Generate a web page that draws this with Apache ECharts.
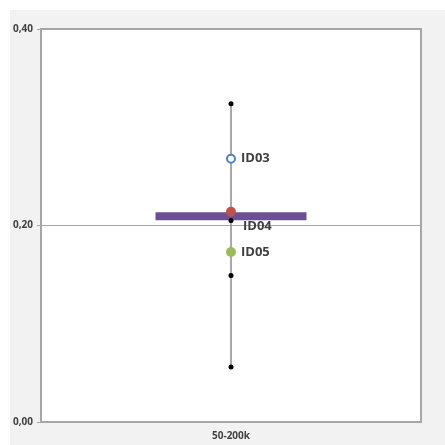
<!DOCTYPE html>
<html><head><meta charset="utf-8">
<script src="https://cdn.jsdelivr.net/npm/echarts@6/dist/echarts.min.js"></script>
<style>html,body{margin:0;padding:0;background:#fff}#c{width:445px;height:445px}</style>
</head><body><div id="c"></div>
<script>
const categories = ['50-200k'];
const yTicks = ['0,00', '0,20', '0,40'];
const whiskerTop = 0.324;
const whiskerBottom = 0.056;
const blackPoints = [0.324, 0.205, 0.149, 0.056];
const benchmark = 0.2095;
const idNames = ['ID03', 'ID04', 'ID05'];
const idValues = [0.268, 0.214, 0.173];

const chart = echarts.init(document.getElementById('c'), null, {renderer: 'canvas'});
const labelStyle = {show: true, position: 'right', color: '#404040', fontFamily: 'Open Sans', fontSize: 13, fontWeight: 'bold'};
chart.setOption({
  animation: false,
  backgroundColor: '#fff',
  graphic: [{type: 'rect', left: 10, top: 10, shape: {width: 435, height: 435}, style: {fill: '#f2f2f2'}, z: -10}],
  grid: {left: 41, right: 24, top: 29, bottom: 23, show: true, backgroundColor: '#fff', borderColor: '#a6a6a6', borderWidth: 2},
  xAxis: {
    type: 'category', data: categories, boundaryGap: true,
    axisLine: {lineStyle: {color: '#a6a6a6', width: 2}},
    axisTick: {show: false},
    axisLabel: {color: '#404040', fontFamily: 'Open Sans', fontSize: 10, fontWeight: 'bold', margin: 9}
  },
  yAxis: {
    type: 'value', min: 0, max: 0.4, interval: 0.2,
    axisLine: {show: true, lineStyle: {color: '#a6a6a6', width: 2}},
    axisTick: {show: true, length: 4, lineStyle: {color: '#a6a6a6'}},
    splitLine: {show: true, lineStyle: {color: '#a6a6a6', width: 1}},
    axisLabel: {color: '#404040', fontFamily: 'Open Sans', fontSize: 10, fontWeight: 'bold', margin: 8,
      formatter: v => yTicks[Math.round(v / 0.2)]}
  },
  series: [
    {type: 'line', data: [[0, whiskerTop], [0, whiskerBottom]], symbol: 'none',
     lineStyle: {color: '#8c8c8c', width: 1.5}, z: 1},
    {type: 'scatter', data: [[0, benchmark]], symbol: 'rect', symbolSize: [151, 8],
     itemStyle: {color: '#6b5093', opacity: 1}, z: 2},
    {type: 'scatter', data: blackPoints.map(v => [0, v]), symbolSize: 5,
     itemStyle: {color: '#000', opacity: 1}, z: 3},
    {type: 'scatter', name: idNames[0], data: [[0, idValues[0]]], symbol: 'emptyCircle', symbolSize: 8,
     itemStyle: {color: '#4f81bd', borderWidth: 1.5, opacity: 1},
     label: Object.assign({}, labelStyle, {formatter: idNames[0], distance: 5}), z: 4},
    {type: 'scatter', name: idNames[1], data: [[0, idValues[1]]], symbolSize: 10,
     itemStyle: {color: '#c0504d', opacity: 1},
     label: Object.assign({}, labelStyle, {formatter: idNames[1], distance: 7, offset: [0, 15]}), z: 4},
    {type: 'scatter', name: idNames[2], data: [[0, idValues[2]]], symbolSize: 10,
     itemStyle: {color: '#9bbb59', opacity: 1},
     label: Object.assign({}, labelStyle, {formatter: idNames[2], distance: 5}), z: 4}
  ]
});
</script></body></html>
